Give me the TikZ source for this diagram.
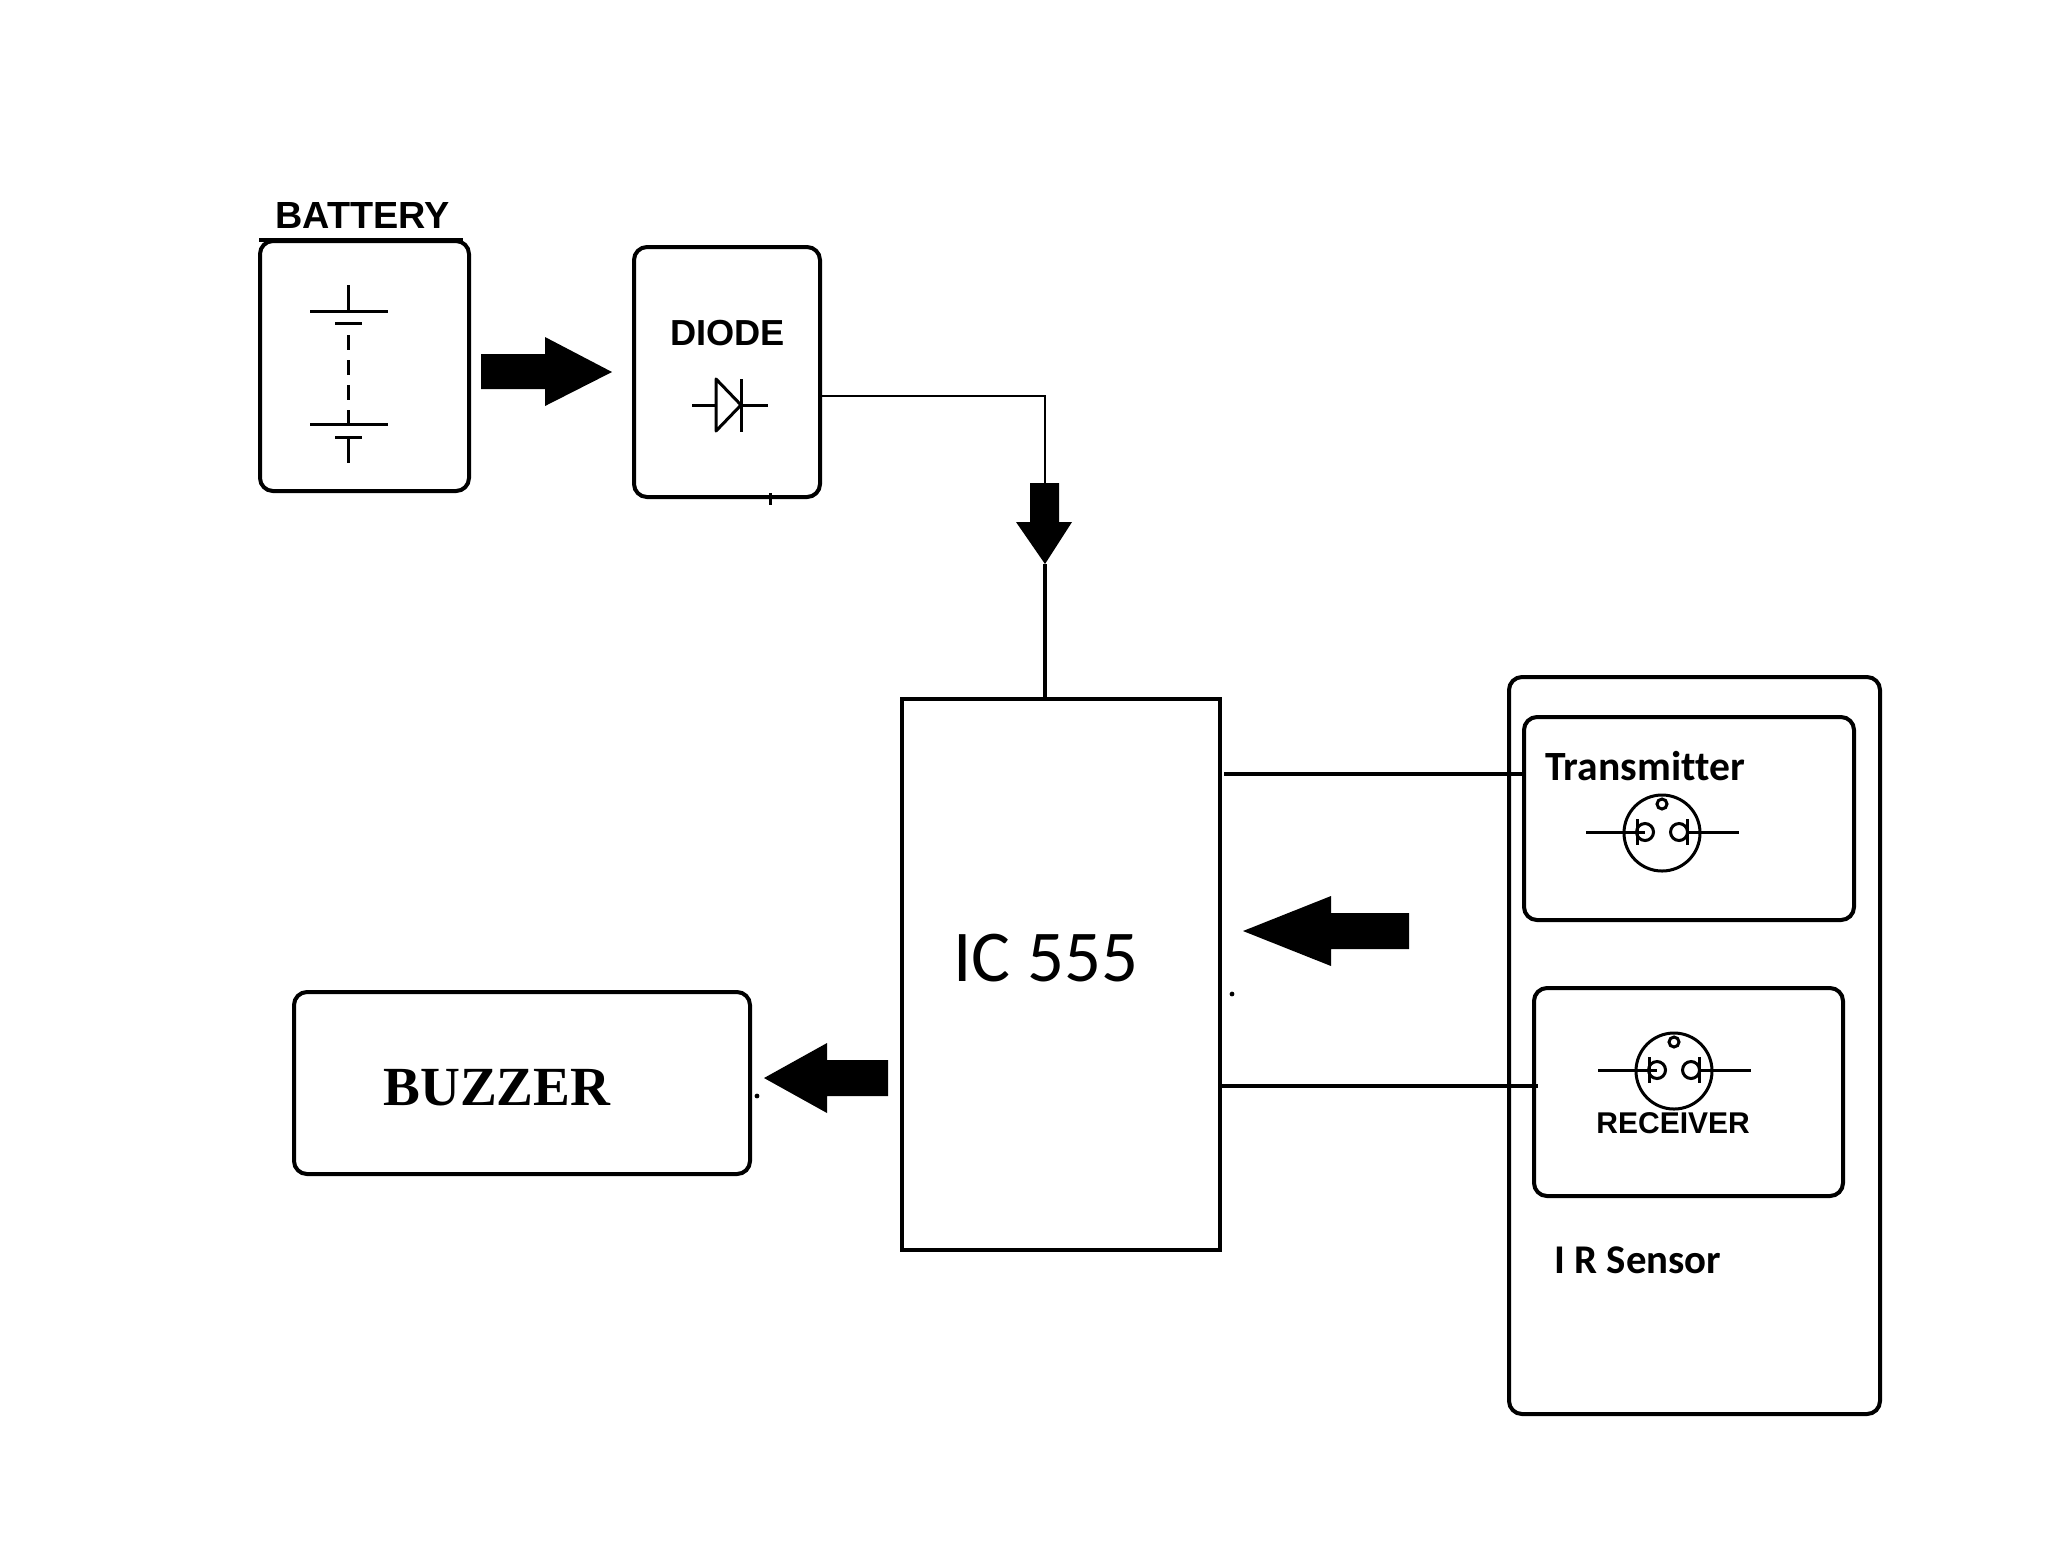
\documentclass[tikz,border=0pt]{standalone}
\usepackage{fontspec}
\setmainfont{Liberation Sans}
\newfontfamily\serifb{Liberation Serif}
\newfontfamily\carl{Carlito}[Ligatures=NoCommon]
\usetikzlibrary{fit}
\tikzset{
  x=0.5pt,y=-0.5pt,
  box/.style={draw=black,line width=2pt,rounded corners=6.5pt,inner sep=0pt,outer sep=0pt},
  rect/.style={draw=black,line width=2.1pt,inner sep=0pt,outer sep=0pt},
  wire/.style={draw=black,line width=1.9pt},
  thin wire/.style={draw=black,line width=1pt},
  sym/.style={draw=black,line width=1.5pt},
  blk/.style={fill=black,draw=none},
  lbl/.style={inner sep=0pt,anchor=base west,text=black},
  arial/.style={lbl,font=\bfseries\fontsize{18.9}{22}\selectfont},
  carlb/.style={lbl,font=\carl\bfseries\fontsize{20.4}{24}\selectfont},
}
\newcommand{\irsym}[2]{%
  \begin{scope}[shift={(#1,#2)}]
    \draw[sym] (0,0) circle[radius=38];
    \draw[sym] (0,-29) circle[radius=5];
    \draw[sym] (-76,-1) -- (-17,-1);
    \draw[sym] (25,-1) -- (77,-1);
    \draw[sym] (-25,-14) -- (-25,12);
    \draw[sym] (25,-14) -- (25,12);
    \draw[sym] (-17,-1) circle[radius=8.5];
    \draw[sym] (17,-1) circle[radius=8.5];
  \end{scope}}
\begin{document}
\begin{tikzpicture}
\useasboundingbox (0,0) rectangle (2048,1549);
\fill[white] (0,0) rectangle (2048,1549);

% boxes
\node[box,fit={(260,241)(469,491)}] (bat) {};
\node[box,fit={(634,247)(820,497)}] (dio) {};
\node[rect,fit={(902,699)(1220,1250)}] (ic) {};
\node[box,fit={(294,992)(750,1174)}] (buz) {};
\node[box,fit={(1509,677)(1880,1414)}] (ir) {};
\node[box,fit={(1524,717)(1854,920)}] (tx) {};
\node[box,fit={(1534,988)(1843,1196)}] (rx) {};

% labels
\node[arial] (batl) at (275,228) {BATTERY};
\node[arial,font=\bfseries\fontsize{18.1}{22}\selectfont] (diol) at (670,345) {DIODE};
\node[lbl,font=\carl\fontsize{36.5}{40}\selectfont] (icl) at (953,981) {IC 555};
\node[lbl,font=\serifb\bfseries\fontsize{27.6}{32}\selectfont] (buzl) at (383,1105) {BUZZER};
\node[carlb,font=\carl\bfseries\fontsize{20.8}{24}\selectfont] (txl) at (1545,780) {Transmitter};
\node[lbl,font=\bfseries\fontsize{15}{18}\selectfont] (rxl) at (1596,1133) {RECEIVER};
\node[carlb] (irl) at (1554,1273) {I R Sensor};

% battery top stroke and symbol
\draw[line width=1.8pt] (259,240) -- (463,240);
\draw[sym] (348,285) -- (348,311);
\draw[sym] (310,311) -- (388,311);
\draw[sym] (335,323) -- (362,323);
\draw[sym,dash pattern=on 7.5pt off 5pt] (348,335) -- (348,412);
\draw[sym] (348,412) -- (348,424);
\draw[sym] (310,424) -- (388,424);
\draw[sym] (335,437) -- (362,437);
\draw[sym] (348,437) -- (348,463);

% diode symbol
\draw[sym] (692,405) -- (716,405);
\draw[sym,line join=round] (716,379) -- (741,405) -- (716,431) -- cycle;
\draw[sym] (741,405) -- (768,405);
\draw[sym] (741,379) -- (741,432);
\draw[sym] (770,493) -- (770,505);

% IR symbols
\irsym{1662}{833}
\irsym{1674}{1071}

% block arrows
\fill[blk] (481,354) -- (545,354) -- (545,337) -- (612,372) -- (545,406) -- (545,389) -- (481,389) -- cycle;
\fill[blk] (1030,483) -- (1059,483) -- (1059,522) -- (1072,522) -- (1045,564) -- (1016,522) -- (1030,522) -- cycle;
\fill[blk] (888,1060) -- (827,1060) -- (827,1043) -- (764,1078) -- (827,1113) -- (827,1096) -- (888,1096) -- cycle;
\fill[blk] (1409,913) -- (1331,913) -- (1331,896) -- (1243,931) -- (1331,966) -- (1331,949) -- (1409,949) -- cycle;

% stray specks
\fill (757,1096) circle[radius=2.4];
\fill (1232,994) circle[radius=2.4];

% connectors
\coordinate (dtop) at (1045,483);
\coordinate (dtip) at (1045,564);
\coordinate (w1) at (820,396);
\coordinate (w2) at (1224,774);
\coordinate (w3) at (1220,1086);
\coordinate (w4) at (1538,1086);
\draw[thin wire] (w1) -| (dtop);
\draw[wire] (dtip) -- (dtip |- ic.north);
\draw[wire] (w2) -- (w2 -| tx.west);
\draw[wire] (w3) -- (w4);
\end{tikzpicture}
\end{document}
